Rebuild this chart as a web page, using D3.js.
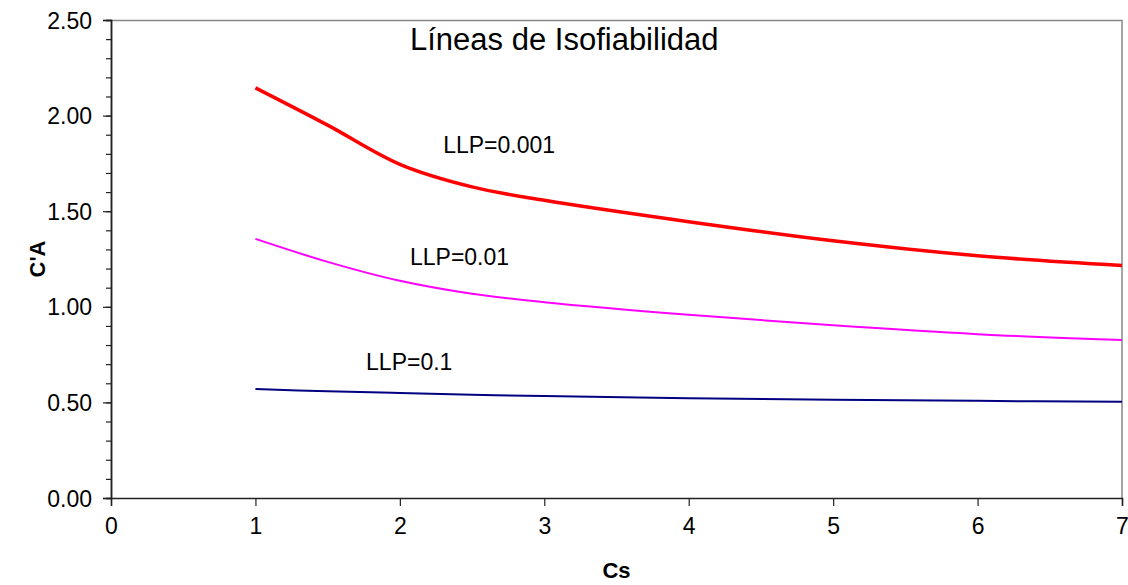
<!DOCTYPE html>
<html>
<head>
<meta charset="utf-8">
<script src="https://cdn.jsdelivr.net/npm/d3@7"></script>
<style>
	body { margin: 0; background: #fff; }
	text { font-family: Arial, "Liberation Sans", sans-serif; }
</style>
</head>
<body>
<div id="chart"></div>
<script>

// Cs values where the curves were read
var cs = [1, 1.5, 2, 2.5, 3, 4, 5, 6, 7];

var llp0001 = [2.145, 1.95, 1.745, 1.627, 1.557, 1.445, 1.345, 1.267, 1.216];
var llp001  = [1.355, 1.235, 1.136, 1.068, 1.024, 0.958, 0.903, 0.857, 0.826];
var llp01   = [0.570, 0.558, 0.549, 0.540, 0.533, 0.522, 0.514, 0.508, 0.503];

var xTicks = [0, 1, 2, 3, 4, 5, 6, 7];
var yTicks = [0, 0.5, 1, 1.5, 2, 2.5];

// curve labels, anchored in data units
var labelText = ["LLP=0.001", "LLP=0.01", "LLP=0.1"];
var labelCs   = [2.30, 2.07, 1.766];
var labelCa   = [1.803, 1.22, 0.667];

var margin = {top: 20, right: 6, bottom: 87, left: 111},
	W = 1128, H = 585,
	width = W - margin.left - margin.right,
	height = H - margin.top - margin.bottom;

var x = d3.scaleLinear().domain([0, 7]).range([0, width]);
var y = d3.scaleLinear().domain([0, 2.5]).range([height, 0]);

var svg = d3.select("#chart").append("svg")
	.attr("width", W)
	.attr("height", H);

var g = svg.append("g")
	.attr("transform", "translate(" + margin.left + "," + margin.top + ")");

// plot frame: top and right in grey
g.append("path")
	.attr("d", "M0,0.5H" + width + "V" + height)
	.attr("fill", "none")
	.attr("stroke", "#888")
	.attr("stroke-width", 1.5);

// x axis
var xAxis = d3.axisBottom(x).tickValues(xTicks).tickFormat(d3.format("d")).tickSize(8).tickPadding(12);
var gx = g.append("g")
	.attr("transform", "translate(0," + height + ")")
	.call(xAxis);

// y axis, minor ticks every 0.1
var yMinor = d3.axisLeft(y).tickValues(d3.range(0, 26).map(function(i){ return i / 10; })).tickFormat("").tickSize(5);
g.append("g").attr("class", "minor").call(yMinor);

var yAxis = d3.axisLeft(y).tickValues(yTicks).tickFormat(d3.format(".2f")).tickSize(8).tickPadding(11);
var gy = g.append("g").call(yAxis);

g.selectAll(".domain").attr("stroke", "#222").attr("stroke-width", 1.5);
g.selectAll(".tick line").attr("stroke", "#222").attr("stroke-width", 1.2);
g.selectAll(".tick text")
	.attr("fill", "#000")
	.style("font-size", "23px")
	.style("font-family", "Arial, 'Liberation Sans', sans-serif");
gy.selectAll(".tick text").attr("dy", "0.35em");

// curves
var series = [
	{name: "0.001", values: llp0001, color: "#FF0000", w: 3.5},
	{name: "0.01",  values: llp001,  color: "#FF00FF", w: 2},
	{name: "0.1",   values: llp01,   color: "#000080", w: 2}
];

var line = d3.line()
	.x(function(d){ return x(d[0]); })
	.y(function(d){ return y(d[1]); })
	.curve(d3.curveCatmullRom.alpha(0.5));

series.forEach(function(s){
	var pts = cs.map(function(c, i){ return [c, s.values[i]]; });
	g.append("path")
		.datum(pts)
		.attr("d", line)
		.attr("fill", "none")
		.attr("stroke", s.color)
		.attr("stroke-width", s.w)
		.attr("stroke-linejoin", "round");
});

// curve labels
labelText.forEach(function(t, i){
	g.append("text")
		.attr("x", x(labelCs[i]))
		.attr("y", y(labelCa[i]))
		.style("font-size", "23px")
		.text(t);
});

// title
g.append("text")
	.attr("x", 299)
	.attr("y", 29.5)
	.style("font-size", "31px")
	.text("Líneas de Isofiabilidad");

// axis titles
svg.append("text")
	.attr("x", margin.left + width / 2)
	.attr("y", 578)
	.attr("text-anchor", "middle")
	.style("font-size", "22px")
	.style("font-weight", "bold")
	.text("Cs");

svg.append("text")
	.attr("transform", "translate(45," + (margin.top + height / 2) + ") rotate(-90)")
	.attr("text-anchor", "middle")
	.style("font-size", "22px")
	.style("font-weight", "bold")
	.text("C'A");

</script>
</body>
</html>
